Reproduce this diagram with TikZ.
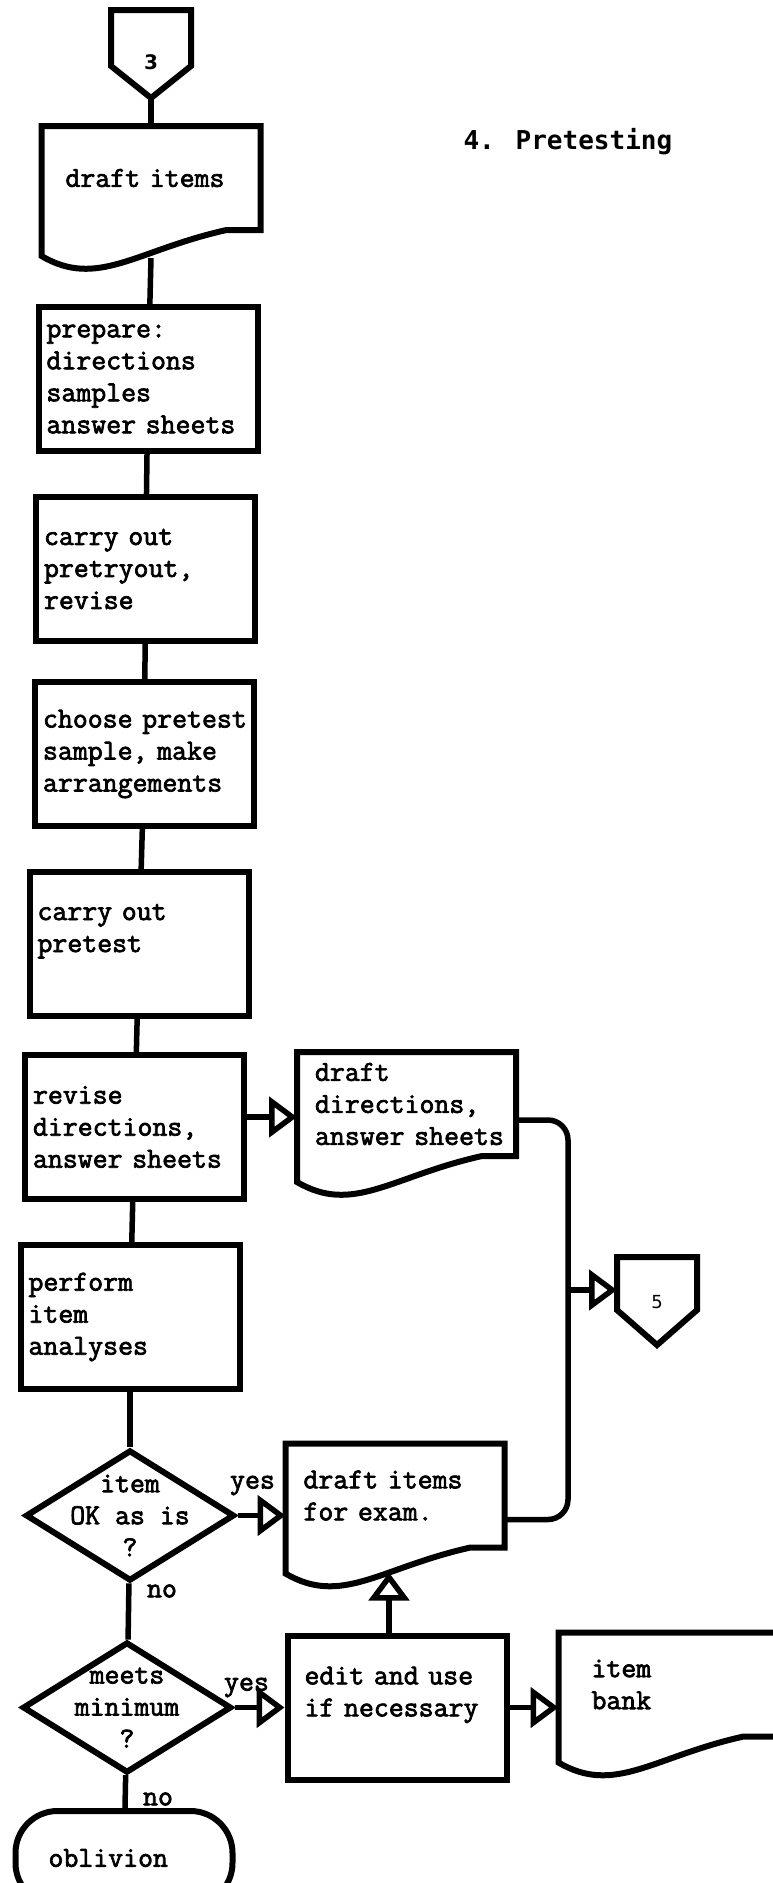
\documentclass[tikz,border=0pt]{standalone}
\usepackage{fontspec}
\newfontfamily\typer{Latin Modern Mono}[FakeBold=2.5]
\newfontfamily\headfont{DejaVu Sans Mono}
\newfontfamily\digitfont{DejaVu Sans}
\usetikzlibrary{shapes.geometric, arrows.meta, positioning}
\tikzset{
  typeset/.style={font=\typer\fontsize{29pt}{32pt}\selectfont},
  thickline/.style={line width=6pt},
  conn/.style={line width=5.5pt},
  arr/.style={conn, -{Triangle[open, length=28pt, width=40pt, line width=5.5pt]}},
  box/.style={
    rectangle, draw, thickline, typeset,
    minimum width=219pt, minimum height=144pt,
    text width=203pt, inner xsep=8pt, align=left
  },
  doc/.style={
    rectangle, typeset, outer sep=0pt,
    minimum width=219pt, minimum height=104pt,
    text width=183pt, inner xsep=18pt, align=left
  },
  decision/.style={
    diamond, draw, thickline, typeset, aspect=1.57,
    minimum width=209pt, minimum height=131pt, inner sep=-14pt, align=center
  },
  terminal/.style={
    rectangle, rounded corners=42pt, draw, thickline, typeset,
    minimum width=217pt, minimum height=94pt,
    text width=151pt, inner xsep=33pt, align=left
  },
  offpage/.style={rectangle, outer sep=0pt, minimum width=80pt, minimum height=88pt},
  lbl/.style={typeset}
}
% document outline with wavy bottom
\newcommand{\docedge}[1]{%
  \draw[thickline] (#1.south east) -- (#1.north east) -- (#1.north west)
    -- ([yshift=-26pt]#1.south west)
    .. controls +(56pt,-33pt) and +(-90pt,-20pt) .. ([xshift=-34pt]#1.south east)
    -- cycle;}
% off-page connector outline
\newcommand{\pentedge}[2]{%
  \draw[thickline] (#1.north west) -- (#1.north east) -- ([yshift=#2]#1.south east)
    -- (#1.south) -- ([yshift=#2]#1.south west) -- cycle;}

\begin{document}
\begin{tikzpicture}[x=1pt, y=1pt]
\useasboundingbox (0,0) rectangle (773,-1883);

% Title
\node[anchor=west, font=\headfont\bfseries\fontsize{26pt}{30pt}\selectfont] (title) at (460,-142) {4. Pretesting};

% Main column
\node[offpage, font=\digitfont\bfseries\fontsize{20pt}{24pt}\selectfont,
      text height=30pt, text depth=0pt] (three) at (151,-54) {3};
\node[doc, below=28pt of three, inner xsep=24pt, text width=171pt] (drft) {draft items};
\node[box, below=74pt of drft, xshift=-3pt]      (prep)    {prepare:\\directions\\samples\\answer sheets};
\node[box, below=40pt of prep, xshift=-2.5pt]    (pretry)  {carry out\\pretryout,\\revise};
\node[box, below=35pt of pretry, xshift=-1pt]    (choose)  {choose~pretest\\sample, make\\arrangements};
\node[box, below=40pt of choose, xshift=-5.5pt]  (pretest) {carry out\\pretest\\~};
\node[box, below=33pt of pretest, xshift=-4.5pt] (revise)  {revise\\directions,\\answer sheets};
\node[box, below=40pt of revise, xshift=-4.5pt]  (perform) {perform\\item\\analyses};
\node[decision, below=55pt of perform]           (ok)      {item\\OK as is\\?};
\node[decision, below=55pt of ok, xshift=-3pt]   (meets)   {meets\\minimum\\?};
\node[terminal, below=32pt of meets, xshift=-3pt] (obliv)  {oblivion};

% Right side
\node[doc, right=50pt of revise.north east, anchor=north west] (ddir) {draft\\directions,\\answer~sheets};
\node[doc, right=48pt of ok, yshift=20pt] (dexam) {draft items\\for exam.};
\node[box, right=50pt of meets, inner xsep=17pt, text width=185pt] (edit) {edit and use\\if~necessary\\~};
\node[doc, right=49pt of edit.north east, anchor=north west,
      inner xsep=33pt, text width=153pt] (bank) {item\\bank};
\node[offpage, font=\digitfont\fontsize{18pt}{22pt}\selectfont,
      text height=15pt, text depth=0pt] (five) at (657,-1301) {5};
\coordinate (rail) at (568,-1290);

% Outlines
\docedge{drft}
\docedge{ddir}
\docedge{dexam}
\docedge{bank}
\pentedge{three}{32pt}
\pentedge{five}{35pt}

% Connections
\draw[conn] (three.south) -- (drft.north);
\draw[conn] ([yshift=-28pt]drft.south) -- (prep);
\draw[conn] (prep) -- (pretry);
\draw[conn] (pretry) -- (choose);
\draw[conn] (choose) -- (pretest);
\draw[conn] (pretest) -- (revise);
\draw[arr] ([yshift=10pt]revise.east) -- ([yshift=10pt]revise.east -| ddir.west);
\draw[conn, rounded corners=20pt] ([yshift=-16pt]ddir.east) -| (rail) |- ([yshift=-24pt]dexam.east);
\draw[arr] (rail) -- (rail -| five.west);
\draw[conn] (revise) -- (perform);
\draw[conn] (perform) -- (ok);
\draw[arr] (ok.east) -- (ok.east -| dexam.west);
\draw[conn] (ok) -- (meets);
\draw[arr] (meets.east) -- (meets.east -| edit.west);
\draw[conn] (meets) -- (obliv);
\draw[arr] ([xshift=-8pt]edit.north) -- ++(0,60);
\draw[arr] (edit.east) -- (edit.east -| bank.west);

% Branch labels
\node[lbl] (yes1) at ([xshift=15pt, yshift=30pt]ok.east) {yes};
\node[lbl] (no1)  at ([xshift=32pt, yshift=-7pt]ok.south) {no};
\node[lbl] (yes2) at ([xshift=12pt, yshift=20pt]meets.east) {yes};
\node[lbl] (no2)  at ([xshift=31pt, yshift=-23pt]meets.south) {no};

\end{tikzpicture}
\end{document}
